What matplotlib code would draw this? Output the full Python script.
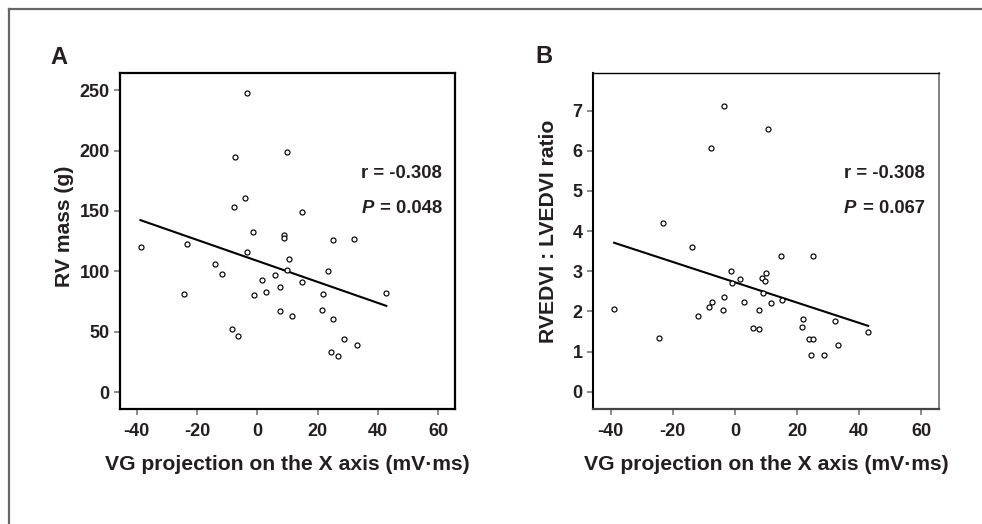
import numpy as np
import matplotlib
matplotlib.use("Agg")
import matplotlib.pyplot as plt
from matplotlib.lines import Line2D

plt.rcParams['font.family'] = ['Liberation Sans', 'DejaVu Sans']
plt.rcParams['font.weight'] = 'bold'
plt.rcParams['axes.unicode_minus'] = False

txt = '#231f20'
tickc = '#6e6e6e'

# Panel A: RV mass vs VG projection
a_x = [-3.5, 9.8, -7.5, -4.1, -7.8, 14.7, -1.5, 8.7, 8.7, 25.0, 32.0, -38.7, -23.2,
       -3.5, 10.5, -13.9, -11.7, 9.7, 23.5, 5.7, 1.5, 14.9, 7.5, 2.9, -24.4, -1.0,
       21.8, 42.6, 7.5, 11.6, 21.6, 25.1, -8.4, -6.4, 28.7, 33.0, 24.6, 26.9]
a_y = [248, 198.7, 194.3, 161, 153.4, 149.3, 132.2, 130.2, 128, 126, 127, 119.8, 122.5,
       115.9, 110, 106, 98.2, 101, 100.4, 97.1, 93, 91, 87.2, 83, 81.4, 80,
       81.4, 81.7, 66.8, 63.2, 67.9, 60.2, 52.2, 46.1, 44.1, 39.2, 33.4, 30.1]
a_fit_x = [-38.8, 42.8]
a_fit_y = [142.4, 71.4]

# Panel B: RVEDVI : LVEDVI ratio vs VG projection
b_x = [-3.4, 10.7, -7.6, -23.2, -13.8, 14.8, 25.0, -1.4, 1.6, -1.0, 9.9, 8.7, 9.8,
       8.9, -3.4, 15.1, 11.6, 3.0, -7.4, -8.4, -38.9, -4.0, 7.6, -11.9, 21.9, 21.6,
       32.1, 42.8, 5.8, 7.8, -24.5, 23.7, 25.2, 33.2, 24.5, 28.8]
b_y = [7.11, 6.55, 6.07, 4.19, 3.61, 3.38, 3.39, 3.01, 2.81, 2.72, 2.95, 2.83, 2.77,
       2.45, 2.35, 2.28, 2.21, 2.23, 2.24, 2.11, 2.06, 2.04, 2.04, 1.89, 1.80, 1.60,
       1.76, 1.48, 1.58, 1.55, 1.35, 1.32, 1.32, 1.16, 0.92, 0.91]
b_fit_x = [-38.9, 42.9]
b_fit_y = [3.71, 1.64]

x_ticks = [-40, -20, 0, 20, 40, 60]
a_yticks = [0, 50, 100, 150, 200, 250]
b_yticks = [0, 1, 2, 3, 4, 5, 6, 7]

fig = plt.figure(figsize=(9.82, 5.24), dpi=100)

axA = fig.add_axes([120/982, 1-409/524, 335/982, 335.7/524])
axB = fig.add_axes([592.7/982, 1-409/524, 346.6/982, 335.7/524])


def style(ax, xlim, ylim, yticks, ylabel, ylab_x, ylab_y):
    ax.set_xlim(*xlim)
    ax.set_ylim(*ylim)
    ax.set_xticks(x_ticks)
    ax.set_yticks(yticks)
    ax.tick_params(direction='out', length=4.3, width=1.1, color=tickc,
                   labelsize=13, labelcolor=txt)
    ax.tick_params(axis='x', pad=6)
    ax.tick_params(axis='y', pad=3)
    for lab in ax.get_xticklabels() + ax.get_yticklabels():
        lab.set_fontweight('bold')
    ax.set_xlabel('VG projection on the X axis (mV·ms)', fontsize=15.2,
                  fontweight='bold', color=txt, labelpad=10.5)
    ax.text(ylab_x, ylab_y, ylabel, transform=ax.transAxes, rotation=90,
            ha='center', va='center', fontsize=15.2, fontweight='bold', color=txt)


style(axA, (-45.6, 65.6), (-14, 264), a_yticks, 'RV mass (g)', -0.165, 0.545)
style(axB, (-45.8, 65.8), (-0.43, 7.93), b_yticks, 'RVEDVI : LVEDVI ratio', -0.128, 0.53)

for sp in axA.spines.values():
    sp.set_linewidth(1.6)
    sp.set_color('black')
axB.spines['top'].set_linewidth(1.0)
axB.spines['left'].set_linewidth(1.5)
axB.spines['right'].set_linewidth(1.3)
axB.spines['right'].set_color('#777777')
axB.spines['bottom'].set_linewidth(1.6)
axB.spines['bottom'].set_color('#444444')

for ax, xs, ys, fx, fy, pval in [(axA, a_x, a_y, a_fit_x, a_fit_y, '0.048'),
                                 (axB, b_x, b_y, b_fit_x, b_fit_y, '0.067')]:
    ax.plot(fx, fy, color='black', lw=1.5, zorder=2)
    ax.plot(xs, ys, 'o', ms=3.6, mfc='white', mec='black', mew=0.85, zorder=3)
    tx = 0.72 if ax is axA else 0.725
    ax.text(tx, 0.687, 'r = -0.308', transform=ax.transAxes, fontsize=13.3,
            fontweight='bold', color=txt, ha='left', va='baseline')
    ax.text(tx, 0.585, 'P', transform=ax.transAxes, fontsize=13.3, fontweight='bold',
            fontstyle='italic', color=txt, ha='left', va='baseline')
    ax.text(tx + 0.04, 0.585, ' = ' + pval, transform=ax.transAxes, fontsize=13.3,
            fontweight='bold', color=txt, ha='left', va='baseline')

fig.text(50/982, 1-64/524, 'A', fontsize=17, fontweight='bold', color=txt)
fig.text(535/982, 1-63/524, 'B', fontsize=17, fontweight='bold', color=txt)

# outer frame (top and left edges only)
fig.add_artist(Line2D([8.5/982, 1], [1-9/524, 1-9/524], transform=fig.transFigure,
                      color='#666666', lw=1.6))
fig.add_artist(Line2D([8.5/982, 8.5/982], [0, 1-9/524], transform=fig.transFigure,
                      color='#666666', lw=1.6))

fig.savefig('out.png', dpi=100, facecolor='white')
